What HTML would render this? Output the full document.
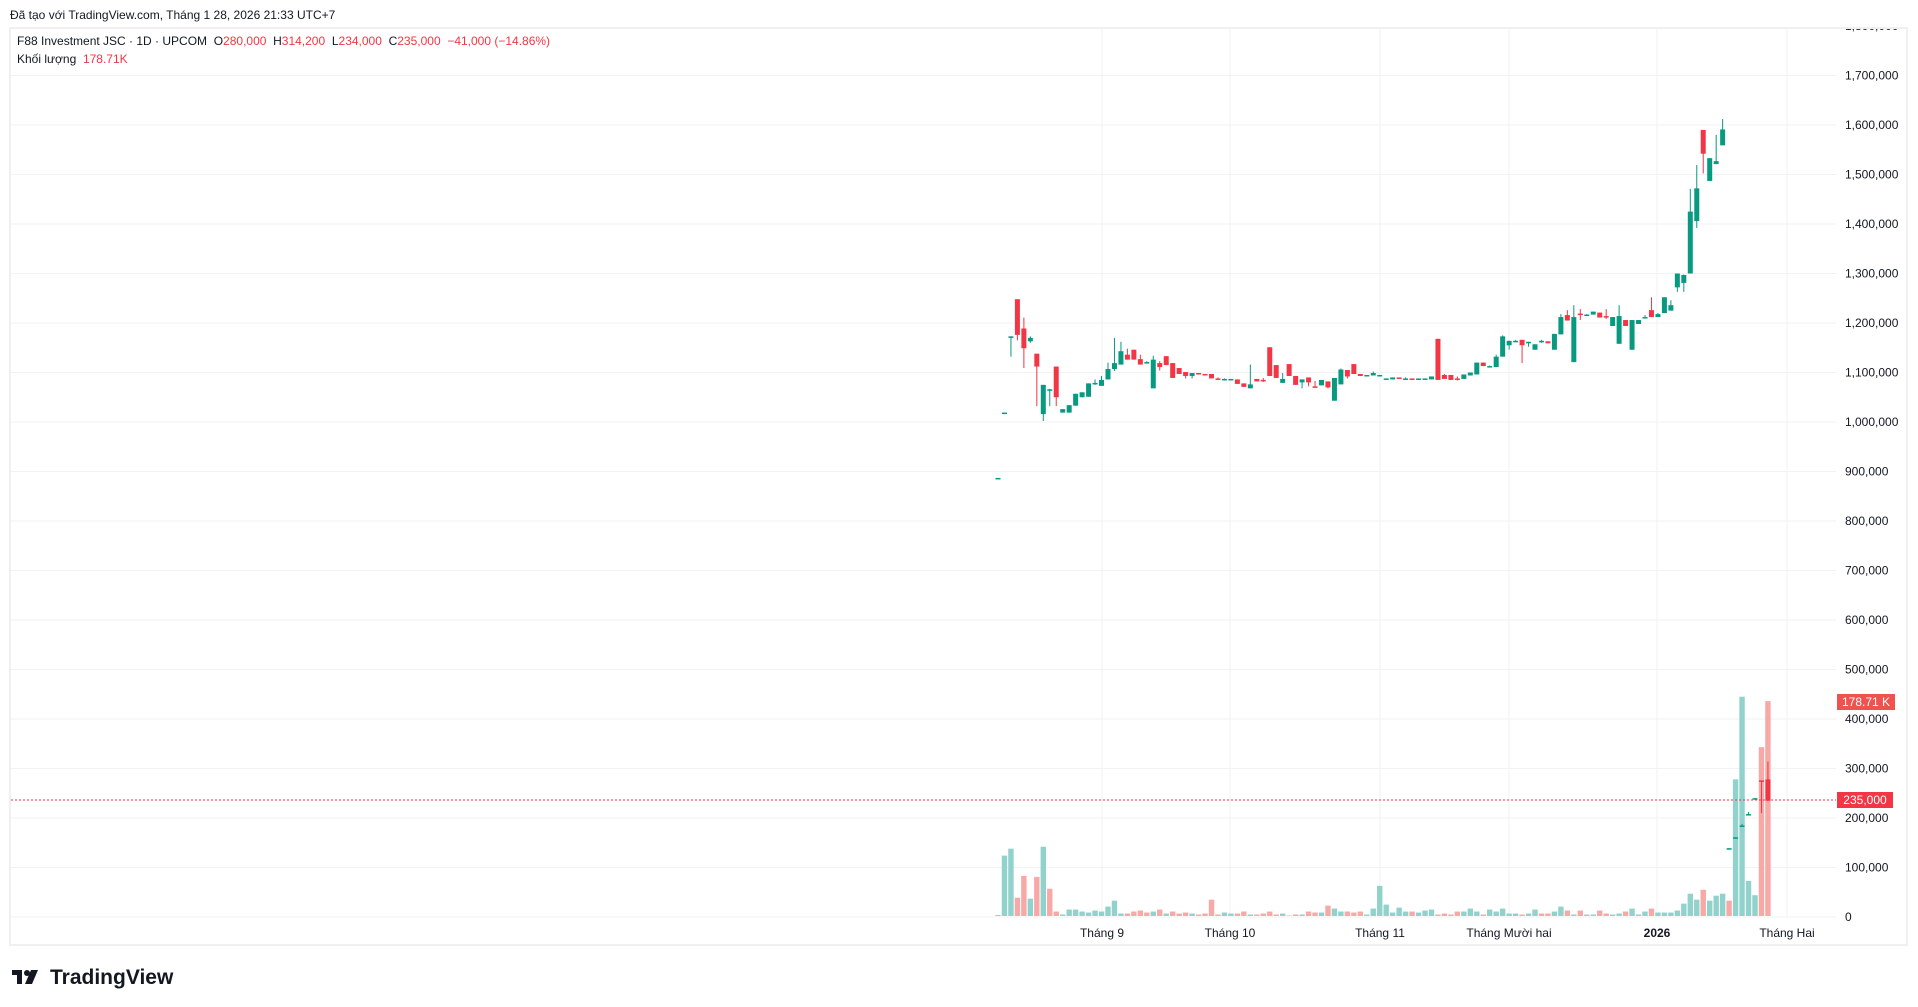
<!DOCTYPE html>
<html><head><meta charset="utf-8"><style>
html,body{margin:0;padding:0;background:#fff;width:1918px;height:1007px;overflow:hidden;font-family:"Liberation Sans","DejaVu Sans",sans-serif;}
svg{position:absolute;left:0;top:0}
</style></head><body>
<svg id="c" width="1918" height="1007" xmlns="http://www.w3.org/2000/svg" font-family="Liberation Sans, DejaVu Sans, sans-serif">
<defs><clipPath id="cp"><rect x="0" y="29" width="1918" height="920"/></clipPath></defs>
<text x="10" y="19" font-size="12" fill="#131722">Đã tạo với TradingView.com, Tháng 1 28, 2026 21:33 UTC+7</text>
<rect x="10" y="28" width="1897" height="917" fill="none" stroke="#f0f0f0" stroke-width="2"/>
<g id="grid"></g>
<g id="vol"></g>
<g id="cand"></g>
<line x1="11" y1="800" x2="1836" y2="800" stroke="#f23645" stroke-width="1" stroke-dasharray="2,2"/>
<g id="axis" font-size="12" fill="#131722" clip-path="url(#cp)"></g>
<rect x="1837" y="694" width="58" height="16" fill="#ef5350"/>
<text x="1866" y="706" font-size="12" fill="#fff" text-anchor="middle">178.71 K</text>
<rect x="1837" y="792" width="56" height="16" fill="#f23645"/>
<text x="1865" y="804" font-size="12" fill="#fff" text-anchor="middle">235,000</text>
<g font-size="12" fill="#131722" text-anchor="middle">
<text x="1102" y="937">Tháng 9</text>
<text x="1230" y="937">Tháng 10</text>
<text x="1380" y="937">Tháng 11</text>
<text x="1509" y="937">Tháng Mười hai</text>
<text x="1657" y="937" font-weight="bold">2026</text>
<text x="1787" y="937">Tháng Hai</text>
</g>
<text x="17" y="45" font-size="12" fill="#131722" xml:space="preserve">F88 Investment JSC · 1D · UPCOM  O<tspan fill="#f23645">280,000</tspan>  H<tspan fill="#f23645">314,200</tspan>  L<tspan fill="#f23645">234,000</tspan>  C<tspan fill="#f23645">235,000</tspan>  <tspan fill="#f23645">−41,000 (−14.86%)</tspan></text>
<text x="17" y="63" font-size="12" fill="#131722" xml:space="preserve">Khối lượng  <tspan fill="#f23645">178.71K</tspan></text>
<g fill="#131722">
<rect x="12" y="970" width="10" height="5"/><rect x="17" y="970" width="5" height="14"/>
<circle cx="27" cy="973" r="3"/><polygon points="31,970 38,970 32,984 25,984"/>
<text x="50" y="984" font-size="21" font-weight="bold">TradingView</text>
</g>
</svg>
<script>
var NS="http://www.w3.org/2000/svg";
function el(p,t,a){var e=document.createElementNS(NS,t);for(var k in a)e.setAttribute(k,a[k]);p.appendChild(e);return e;}
function Y(p){return 917-p*0.495;}
var grid=document.getElementById('grid'),axis=document.getElementById('axis');
for(var v=0;v<=1800;v+=100){var y=Y(v);if(y>28){el(grid,'line',{x1:11,x2:1836,y1:y,y2:y,stroke:'#f2f2f2','stroke-width':1});}
 var t=el(axis,'text',{x:1845,y:y+4});t.textContent=v==0?'0':(v*1000).toLocaleString('en-US');}
[1102,1230,1380,1509,1657,1787].forEach(function(x){el(grid,'line',{x1:x,x2:x,y1:29,y2:916,stroke:'#f2f2f2','stroke-width':1});});
var C=[[887,887,887,887],[1019,1019,1019,1019],[1173,1173,1132,1173],[1248,1248,1165,1176],[1189,1211,1109,1149],[1163,1173,1160,1170],[1138,1138,1032,1112],[1016,1075,1002,1075],[1066,1067,1032,1066],[1112,1112,1032,1050],
[1019,1026,1040,1026],[1019,1034,1019,1034],[1033,1057,1033,1057],[1050,1060,1050,1060],[1051,1078,1051,1078],[1079,1086,1075,1079],[1073,1093,1073,1085],[1086,1120,1086,1107],[1107,1170,1103,1119],[1116,1162,1116,1143],
[1136,1148,1126,1126],[1146,1146,1126,1126],[1127,1136,1116,1116],[1121,1123,1119,1121],[1068,1134,1068,1126],[1119,1123,1104,1111],[1133,1133,1115,1115],[1119,1119,1089,1089],[1109,1109,1097,1097],[1101,1101,1088,1093],
[1093,1099,1088,1099],[1099,1099,1096,1096],[1097,1097,1096,1096],[1097,1097,1088,1088],[1088,1090,1088,1087],[1087,1088,1084,1087],[1087,1087,1087,1087],[1086,1086,1077,1077],[1078,1078,1071,1071],[1068,1116,1068,1076],
[1087,1087,1082,1082],[1085,1089,1081,1084],[1151,1151,1093,1093],[1115,1115,1089,1089],[1079,1099,1079,1087],[1117,1117,1093,1093],[1093,1093,1075,1075],[1080,1086,1068,1086],[1090,1090,1072,1080],[1072,1083,1072,1071],
[1074,1085,1074,1085],[1082,1082,1068,1070],[1043,1089,1043,1089],[1076,1108,1076,1106],[1105,1105,1088,1092],[1117,1117,1097,1097],[1097,1097,1093,1093],[1095,1095,1095,1095],[1094,1102,1094,1099],[1095,1095,1095,1095],
[1088,1088,1088,1088],[1086,1090,1086,1090],[1090,1090,1087,1087],[1088,1090,1086,1088],[1088,1088,1085,1085],[1085,1088,1085,1088],[1088,1088,1088,1088],[1086,1092,1086,1092],[1168,1168,1085,1085],[1095,1097,1087,1087],
[1095,1095,1085,1085],[1088,1092,1084,1087],[1087,1096,1087,1096],[1094,1100,1094,1100],[1096,1120,1096,1120],[1120,1120,1113,1113],[1113,1114,1113,1113],[1111,1136,1111,1132],[1132,1175,1132,1173],[1155,1164,1146,1164],
[1164,1166,1164,1164],[1166,1166,1119,1155],[1162,1162,1152,1162],[1146,1157,1146,1157],[1164,1166,1160,1164],[1163,1163,1159,1159],[1146,1178,1146,1178],[1177,1218,1177,1212],[1216,1226,1205,1205],[1121,1236,1121,1212],
[1219,1228,1206,1218],[1216,1218,1216,1217],[1217,1223,1217,1223],[1221,1221,1211,1211],[1214,1228,1208,1212],[1194,1212,1194,1212],[1158,1236,1158,1214],[1206,1206,1194,1194],[1146,1206,1146,1206],[1198,1206,1198,1206],
[1212,1216,1212,1212],[1226,1252,1212,1212],[1212,1220,1212,1218],[1220,1252,1220,1252],[1225,1246,1225,1236],[1272,1300,1263,1300],[1281,1298,1263,1297],[1300,1471,1300,1425],[1406,1519,1392,1472],[1590,1590,1502,1542],
[1487,1533,1487,1533],[1521,1580,1521,1527],[1559,1612,1559,1591],[139,139,139,139],[161,161,161,161],[185,188,182,185],[208,212,206,208],[240,240,240,240],[276,276,210,274],[278,314,234,235]];
var V=[2,122,136,37,81,35,79,140,55,9,3,13,13,9,7,11,9,19,31,5,5,9,11,7,9,13,5,9,5,7,5,3,5,33,3,7,5,5,9,3,3,5,9,3,5,1,3,3,9,7,7,21,15,9,9,7,9,3,15,61,23,7,17,9,9,7,11,13,3,5,3,9,9,15,9,3,13,9,15,5,5,3,5,13,5,5,9,19,11,3,11,3,3,11,5,3,5,9,15,3,9,15,7,7,7,11,25,45,33,53,31,41,45,31,276,443,71,42,341,434];
var VC=("gggrrgrgrr"+"gggggggggg"+"rrrrgrgrrr"+"grrrrggrrg"+"rrrrgrrgrr"+"grggrrrggg"+"ggggrgggrr"+"rrgggrgggg"+"grggrrggrg"+"rggrrggrgg"+"grgggggggr"+"gggrggggrr");
var vol=document.getElementById('vol'),cand=document.getElementById('cand');
for(var i=0;i<C.length;i++){var x=998+i*6.47;var c=C[i];var up=c[3]>=c[0];
 var vc=VC[i]=='g';
 var vh=V[i]*0.495;el(vol,'rect',{x:x-2.7,y:916-vh,width:5.4,height:vh,fill:vc?'#92d2cc':'#f7a9a7'});
 var col=up?'#089981':'#f23645';
 var hi=Math.max(c[1],c[0],c[3]),lo=Math.min(c[2],c[0],c[3]);
 el(cand,'rect',{x:x-0.5,y:Y(hi),width:1,height:Math.max(1,Y(lo)-Y(hi)),fill:col});
 var t=Y(Math.max(c[0],c[3])),b=Y(Math.min(c[0],c[3]));
 el(cand,'rect',{x:x-2.5,y:t,width:5,height:Math.max(1.5,b-t),fill:col});}
</script>
</body></html>
